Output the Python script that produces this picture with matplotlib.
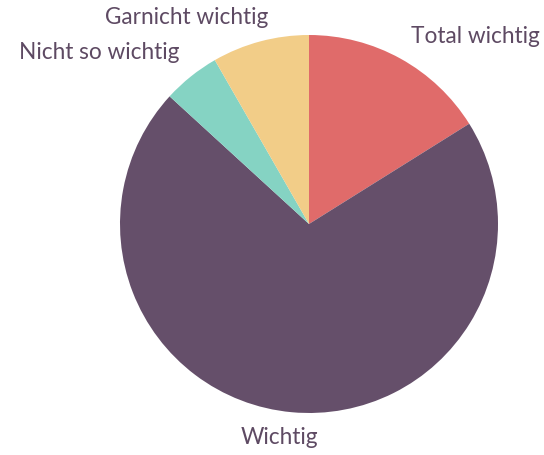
import matplotlib.pyplot as plt

labels = ['Total wichtig', 'Wichtig', 'Nicht so wichtig', 'Garnicht wichtig']
values = [16.1, 70.7, 4.9, 8.3]
colors = ['#E06B6A', '#654F6A', '#85D3C3', '#F2CD88']
# label positions (in pie radius units)
label_pos = [(0.878, 0.99), (-0.159, -1.132), (-1.111, 0.91), (-0.646, 1.09)]

fig = plt.figure(figsize=(5.44, 4.55), dpi=100)
ax = fig.add_axes([120/544, 42/455, 378/544, 378/455])
ax.pie(values, colors=colors, startangle=90, counterclock=False, radius=1,
       wedgeprops={'linewidth': 0})
ax.set_xlim(-1, 1)
ax.set_ylim(-1, 1)
ax.set_aspect('equal')
ax.axis('off')

for lab, (x, y) in zip(labels, label_pos):
    ax.text(x, y, lab, ha='center', va='center', fontsize=16.3, color='#5E4A63',
            family='Lato', clip_on=False)

fig.savefig('out.png', dpi=100)
